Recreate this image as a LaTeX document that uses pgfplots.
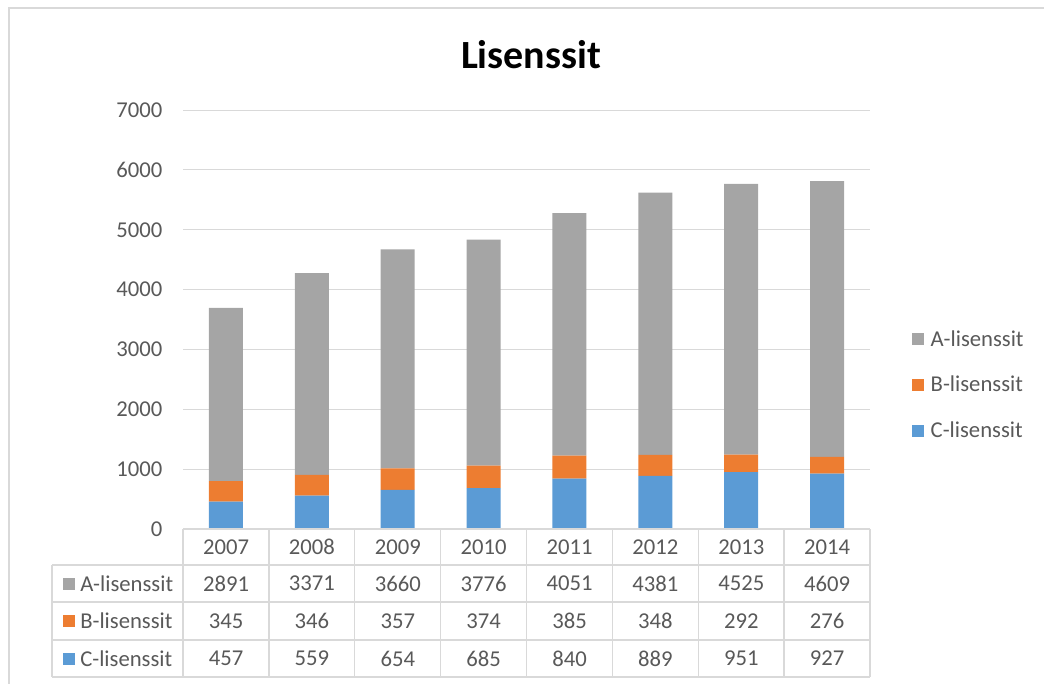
\documentclass[border=0pt]{standalone}
\usepackage{pgfplots}
\usepackage{pgfplotstable}
\pgfplotsset{compat=1.18}
\usepackage{fontspec}
\setmainfont{Carlito}
\definecolor{cA}{HTML}{A5A5A5}
\definecolor{cB}{HTML}{ED7D31}
\definecolor{cC}{HTML}{5B9BD5}
\definecolor{txt}{HTML}{595959}
\definecolor{gridc}{HTML}{D9D9D9}
\pgfplotstableread{
x year A B C
0 2007 2891 345 457
1 2008 3371 346 559
2 2009 3660 357 654
3 2010 3776 374 685
4 2011 4051 385 840
5 2012 4381 348 889
6 2013 4525 292 951
7 2014 4609 276 927
}\data
\newcommand{\sz}{\fontsize{17pt}{20pt}\selectfont}
\begin{document}
\begin{tikzpicture}
\path[use as bounding box] (0,0) rectangle (783pt,-513pt);
\begin{scope}[x=0.75pt,y=-0.75pt]
\draw[gridc, line width=1.5pt] (9,684) -- (9,8) -- (1044,8);
\node[font=\fontsize{30pt}{36pt}\selectfont\bfseries, text=black] at (531,55) {Lisenssit};
\end{scope}
\begin{axis}[at={(137.25pt,-396.75pt)}, anchor=south west, scale only axis,
 width=515.25pt, height=314.25pt,
 ybar stacked, bar width=25.5pt, xmin=-0.5, xmax=7.5, ymin=0, ymax=7000,
 ytick distance=1000, xtick=\empty,
 axis line style={draw=none}, major tick style={draw=none},
 ymajorgrids, grid style={gridc, line width=0.75pt},
 yticklabel style={text=txt, font=\sz, xshift=-12pt},
 /pgf/number format/assume math mode=true,
 /pgf/number format/set thousands separator={},
 legend style={at={(1.055,0.344)}, anchor=west, draw=none, fill=none,
   font=\sz, text=txt, row sep=17pt},
 legend image code/.code={\path[#1,draw=none] (0pt,-4.5pt) rectangle (9pt,4.5pt);
   \path[draw=none,fill=none] (0pt,0pt) -- (12pt,0pt);},
 reverse legend, legend cell align=left, clip=false]
\addplot[fill=cC, draw=none] table[x=x,y=C]{\data};
\addlegendentry{C-lisenssit}
\addplot[fill=cB, draw=none] table[x=x,y=B]{\data};
\addlegendentry{B-lisenssit}
\addplot[fill=cA, draw=none] table[x=x,y=A]{\data};
\addlegendentry{A-lisenssit}
\end{axis}
\begin{scope}[x=0.75pt,y=-0.75pt]
 \begin{scope}[draw=gridc, line width=1pt]
 \foreach \yy in {565,602,640,677} \draw (52,\yy) -- (870,\yy);
 \draw (183,529) -- (870,529);
 \draw (52,565) -- (52,677);
 \foreach \k in {0,...,8} \draw ({183+85.875*\k},529) -- ({183+85.875*\k},677);
 \end{scope}
 \foreach \i in {0,...,7} {
  \pgfmathsetmacro\cx{226+85.875*\i}
  \pgfplotstablegetelem{\i}{year}\of\data
  \node[text=txt,font=\sz] at (\cx,547) {\pgfplotsretval};
  \pgfplotstablegetelem{\i}{A}\of\data
  \node[text=txt,font=\sz] at (\cx,583.5) {\pgfplotsretval};
  \pgfplotstablegetelem{\i}{B}\of\data
  \node[text=txt,font=\sz] at (\cx,621) {\pgfplotsretval};
  \pgfplotstablegetelem{\i}{C}\of\data
  \node[text=txt,font=\sz] at (\cx,658.5) {\pgfplotsretval};
 }
 \fill[cA] (63,577.5) rectangle (75,589.5);
 \node[anchor=west, text=txt, font=\sz, inner sep=0pt] at (80,583.5) {A-lisenssit};
 \fill[cB] (63,615) rectangle (75,627);
 \node[anchor=west, text=txt, font=\sz, inner sep=0pt] at (80,621) {B-lisenssit};
 \fill[cC] (63,652.5) rectangle (75,664.5);
 \node[anchor=west, text=txt, font=\sz, inner sep=0pt] at (80,658.5) {C-lisenssit};
\end{scope}
\end{tikzpicture}
\end{document}
